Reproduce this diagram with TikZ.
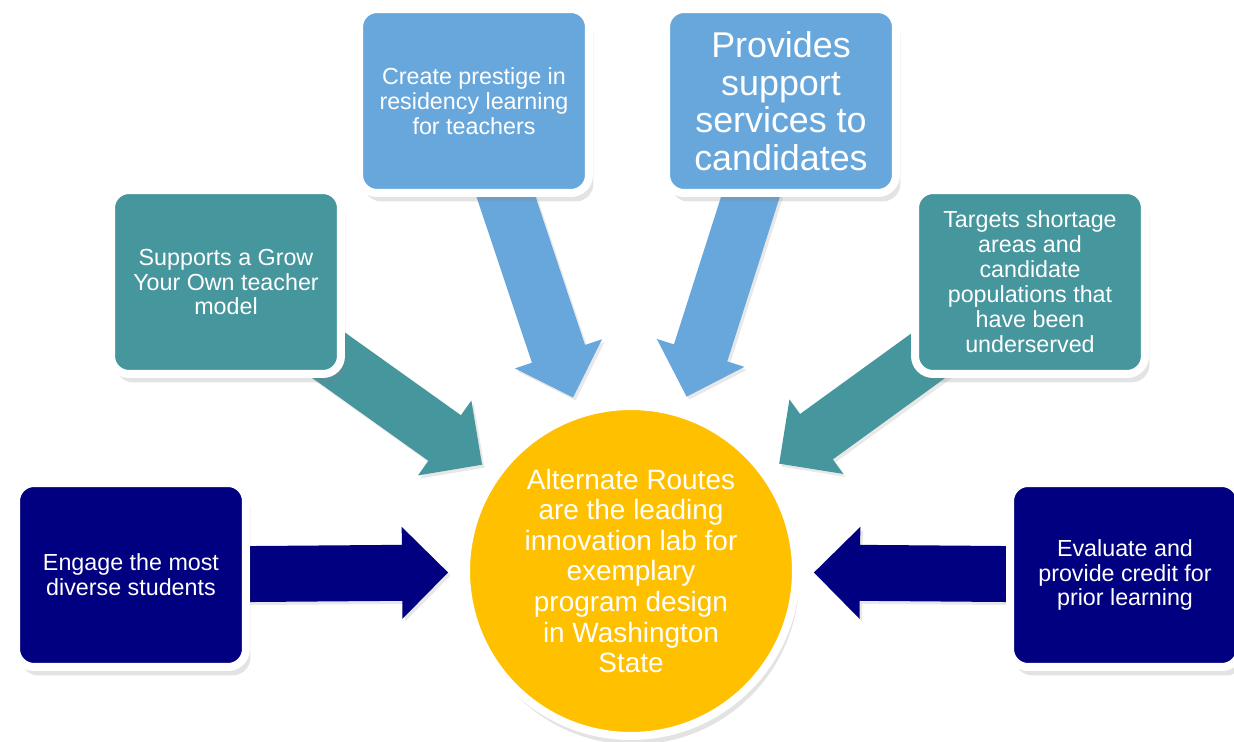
\documentclass[tikz,border=0pt]{standalone}
\usepackage{fontspec}
\setmainfont{Liberation Sans}
\usetikzlibrary{calc,shadows}

\definecolor{deepblue}{RGB}{0,0,128}
\definecolor{seablue}{RGB}{70,150,158}
\definecolor{skyblue}{RGB}{104,167,220}
\definecolor{sunyellow}{RGB}{255,192,0}

\pgfdeclarelayer{back}
\pgfsetlayers{back,main}

\tikzset{
	idea/.style={rectangle, rounded corners=.36cm, draw=white, line width=.16cm,
		minimum width=4.6cm, minimum height=3.68cm, inner sep=2pt, align=center,
		text=white, font=\fontsize{13.25}{14.2}\selectfont,
		drop shadow={shadow xshift=.09cm, shadow yshift=-.17cm, opacity=.22}},
	hub/.style={circle, fill=sunyellow, draw=white, line width=.16cm,
		minimum size=6.6cm, inner sep=0pt, align=center, text=white,
		font=\fontsize{15.9}{17.4}\selectfont,
		drop shadow={shadow xshift=.06cm, shadow yshift=-.17cm, opacity=.22}},
	% fat arrow from a box centre, stopping short of the hub
	block arrow/.style={drop shadow={shadow xshift=.05cm, shadow yshift=-.06cm, opacity=.18},
		to path={
		($(\tikztostart)!.56cm!90:(\tikztotarget)$)
		-- ($(\tikztotarget)!4.58cm!(\tikztostart)!.56cm!-90:(\tikztostart)$)
		-- ($(\tikztotarget)!4.58cm!(\tikztostart)!.92cm!-90:(\tikztostart)$)
		-- ($(\tikztotarget)!3.66cm!(\tikztostart)$)
		-- ($(\tikztotarget)!4.58cm!(\tikztostart)!.92cm!90:(\tikztostart)$)
		-- ($(\tikztotarget)!4.58cm!(\tikztostart)!.56cm!90:(\tikztostart)$)
		-- ($(\tikztostart)!.56cm!-90:(\tikztotarget)$) -- cycle}}
}

\begin{document}
\begin{tikzpicture}[x=.02cm,y=-.02cm]
\useasboundingbox (0,0) rectangle (1234,742);

\node[hub] (hub) at (631,571) {Alternate Routes\\are the leading\\innovation lab for\\exemplary\\program design\\in Washington\\State};

\node[idea,fill=deepblue] (engage) at (131,575) {Engage the most\\diverse students};
\node[idea,fill=seablue] (grow) at (226,282) {Supports a Grow\\Your Own teacher\\model};
\node[idea,fill=skyblue] (prestige) at (474,101) {Create prestige in\\residency learning\\for teachers};
\node[idea,fill=skyblue,font=\fontsize{20.4}{21.4}\selectfont] (support) at (781,101) {Provides\\support\\services to\\candidates};
\node[idea,fill=seablue] (targets) at (1030,282) {Targets shortage\\areas and\\candidate\\populations that\\have been\\underserved};
\node[idea,fill=deepblue] (evaluate) at (1125,575) {Evaluate and\\provide credit for\\prior learning};

\begin{pgfonlayer}{back}
\foreach \b/\c in {engage/deepblue, grow/seablue, prestige/skyblue,
		support/skyblue, targets/seablue, evaluate/deepblue}
	\fill[\c, block arrow] (\b) to (hub);
\end{pgfonlayer}
\end{tikzpicture}
\end{document}
